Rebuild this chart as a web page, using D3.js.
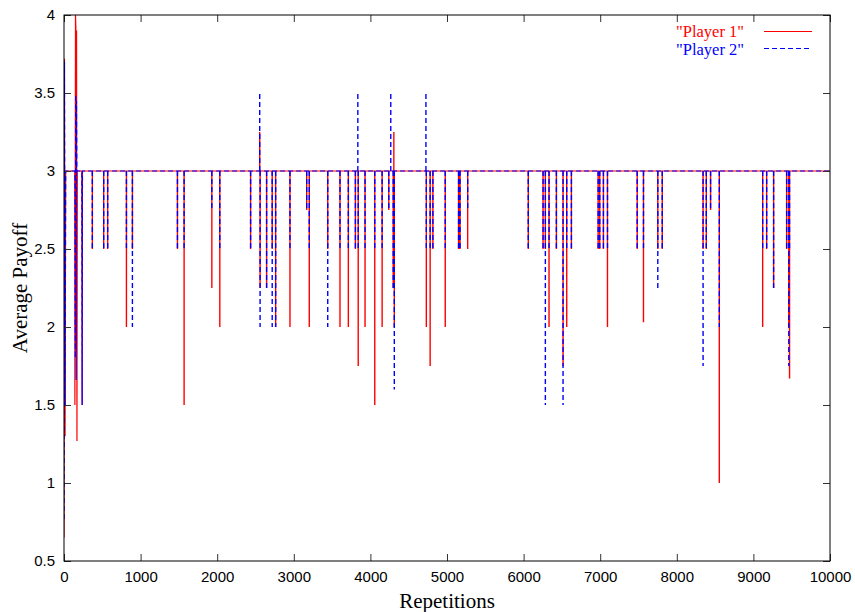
<!DOCTYPE html>
<html>
<head>
<meta charset="utf-8">
<script src="https://cdn.jsdelivr.net/npm/d3@7"></script>
<style>
  body { margin: 0; background: #fff; }
  .tick text { font-family: "Liberation Sans", Arial, sans-serif; font-size: 15px; fill: #000; }
  .tick line { stroke: #333; }
  .title { font-family: "Liberation Serif", "Times New Roman", serif; }
</style>
</head>
<body>
<div id="chart"></div>
<script>
const margin = { left: 64, right: 25, top: 15, bottom: 51 },
  W = 855, H = 612,
  width = W - margin.left - margin.right,
  height = H - margin.top - margin.bottom;

const xTicks = [0, 1000, 2000, 3000, 4000, 5000, 6000, 7000, 8000, 9000, 10000];
const yTicks = [0.5, 1, 1.5, 2, 2.5, 3, 3.5, 4];
const yTickLabels = ["0.5", "1", "1.5", "2", "2.5", "3", "3.5", "4"];
const baseline = 3;

// noisy start of the game
const earlyReps1 = [0, 6, 14, 22, 140, 142, 150, 155, 160, 164, 169, 174, 233, 237, 241];
const early1 = [0.65, 3.72, 1.3, 3, 3, 1.5, 4.0, 3.92, 1.85, 3.9, 1.27, 3, 3, 1.5, 3];
const earlyReps2 = [0, 6, 14, 22, 144, 148, 153, 158, 163, 168, 233, 237, 241];
const early2 = [0.77, 3.7, 1.5, 3, 3, 1.8, 3.49, 1.66, 3.45, 3, 3, 1.5, 3];

// later one-off deviations from the payoff of 3
const spikeReps = [370, 518, 570, 815, 893, 1481, 1568, 1930, 2034, 2436,
  2555, 2560, 2645, 2718, 2763, 2950, 3168, 3202, 3443, 3603,
  3712, 3804, 3836, 3841, 3930, 4057, 4153, 4240, 4266, 4298,
  4306, 4312, 4725, 4730, 4780, 4816, 4977, 5151, 5170, 5270,
  6061, 6254, 6284, 6332, 6428, 6515, 6563, 6624, 6973, 6994,
  7042, 7095, 7483, 7565, 7752, 7810, 8343, 8385, 8441, 8555,
  9121, 9173, 9264, 9434, 9462, 9472];
const spikeP1 = [2.5, 2.5, 2.5, 2.0, 2.5, 2.5, 1.5, 2.25, 2.0, 2.5,
  3.25, 2.25, 2.25, 2.5, 2.0, 2.0, 2.75, 2.0, 2.5, 2.0,
  2.0, 2.5, 3, 1.75, 2.0, 1.5, 2.0, 2.75, 3, 2.25,
  3.25, 2.0, 3, 2.0, 1.75, 2.5, 2.0, 2.5, 2.5, 2.5,
  2.5, 2.5, 2.5, 2.0, 2.5, 1.75, 2.0, 2.5, 2.5, 2.5,
  2.5, 2.0, 2.5, 2.03, 2.5, 2.5, 2.5, 2.5, 2.75, 1.0,
  2.0, 2.5, 2.25, 2.5, 2.0, 1.67];
const spikeP2 = [2.5, 2.5, 2.5, 2.5, 2.0, 2.5, 2.5, 2.75, 2.5, 2.5,
  3.5, 2.0, 2.25, 2.0, 2.0, 2.5, 2.75, 2.5, 2.0, 2.5,
  2.5, 2.5, 3.5, 2.5, 2.5, 2.5, 2.5, 2.75, 3.5, 2.25,
  3, 1.6, 3.5, 2.5, 2.5, 2.5, 2.5, 2.5, 2.5, 2.75,
  2.5, 2.5, 1.5, 2.5, 2.5, 1.5, 2.5, 2.5, 2.5, 2.5,
  2.5, 2.5, 2.5, 2.5, 2.25, 2.5, 1.75, 2.5, 2.75, 2.0,
  2.5, 2.5, 2.25, 2.5, 1.75, 2.5];

const svg = d3.select("#chart").append("svg")
  .attr("width", W)
  .attr("height", H)
  .style("background", "#fff");

const g = svg.append("g").attr("transform", "translate(" + margin.left + "," + margin.top + ")");

const x = d3.scaleLinear().domain([0, 10000]).range([0, width]);
const y = d3.scaleLinear().domain([0.5, 4]).range([height, 0]);

svg.append("clipPath").attr("id", "clip")
  .append("rect").attr("width", width).attr("height", height + 1).attr("y", -0.5);

const line = d3.line().x(d => x(d[0])).y(d => y(d[1]));

// early part + flat run at the baseline, spikes drawn as their own strokes
function mainPath(reps, vals) {
  const pts = reps.map((r, i) => [r, vals[i]]);
  pts.push([10000, baseline]);
  return line(pts);
}
function spikePath(vals) {
  return spikeReps
    .map((r, i) => line([[r, baseline], [r, vals[i]]]))
    .join("");
}

const players = [
  { reps: earlyReps1, early: early1, spikes: spikeP1, color: "#ff0000", dash: null },
  { reps: earlyReps2, early: early2, spikes: spikeP2, color: "#0000ff", dash: "5,3" }
];

const plot = g.append("g").attr("clip-path", "url(#clip)");
players.forEach(p => {
  plot.append("path")
    .attr("d", mainPath(p.reps, p.early))
    .attr("fill", "none")
    .attr("stroke", p.color)
    .attr("stroke-width", 1.2)
    .attr("stroke-dasharray", p.dash);
  plot.append("path")
    .attr("d", spikePath(p.spikes))
    .attr("fill", "none")
    .attr("stroke", p.color)
    .attr("stroke-width", 1.4)
    .attr("stroke-dasharray", p.dash);
});

//axes, gnuplot style ticks inside on all sides
g.append("g")
  .attr("transform", "translate(0," + height + ")")
  .call(d3.axisBottom(x).tickValues(xTicks).tickSize(-7).tickPadding(10).tickFormat(d3.format("d")))
  .call(a => a.select(".domain").remove());
g.append("g")
  .call(d3.axisTop(x).tickValues(xTicks).tickSize(-7).tickFormat(""))
  .call(a => a.select(".domain").remove());
g.append("g")
  .call(d3.axisLeft(y).tickValues(yTicks).tickSize(-7).tickPadding(9).tickFormat((d, i) => yTickLabels[i]))
  .call(a => a.select(".domain").remove());
g.append("g")
  .attr("transform", "translate(" + width + ",0)")
  .call(d3.axisRight(y).tickValues(yTicks).tickSize(-7).tickFormat(""))
  .call(a => a.select(".domain").remove());

g.append("rect")
  .attr("width", width)
  .attr("height", height)
  .attr("fill", "none")
  .attr("stroke", "#000")
  .attr("stroke-width", 1);

//titles
svg.append("text")
  .attr("class", "title")
  .attr("x", margin.left + width / 2)
  .attr("y", 608)
  .attr("text-anchor", "middle")
  .style("font-size", "21px")
  .text("Repetitions");
svg.append("text")
  .attr("class", "title")
  .attr("transform", "translate(27," + (margin.top + height / 2) + ") rotate(-90)")
  .attr("text-anchor", "middle")
  .style("font-size", "21px")
  .text("Average Payoff");

//legend
const legend = [
  { name: "\"Player 1\"", color: "#ff0000", dash: null },
  { name: "\"Player 2\"", color: "#0000ff", dash: "5,3" }
];
const lg = svg.append("g");
legend.forEach((d, i) => {
  lg.append("text")
    .attr("class", "title")
    .attr("x", 744)
    .attr("y", 36.5 + i * 18.4)
    .attr("text-anchor", "end")
    .attr("fill", d.color)
    .style("font-size", "16.5px")
    .text(d.name);
  lg.append("line")
    .attr("x1", 764).attr("x2", 812)
    .attr("y1", 31.5 + i * 17).attr("y2", 31.5 + i * 17)
    .attr("stroke", d.color)
    .attr("stroke-width", 1.2)
    .attr("stroke-dasharray", d.dash);
});
</script>
</body>
</html>
